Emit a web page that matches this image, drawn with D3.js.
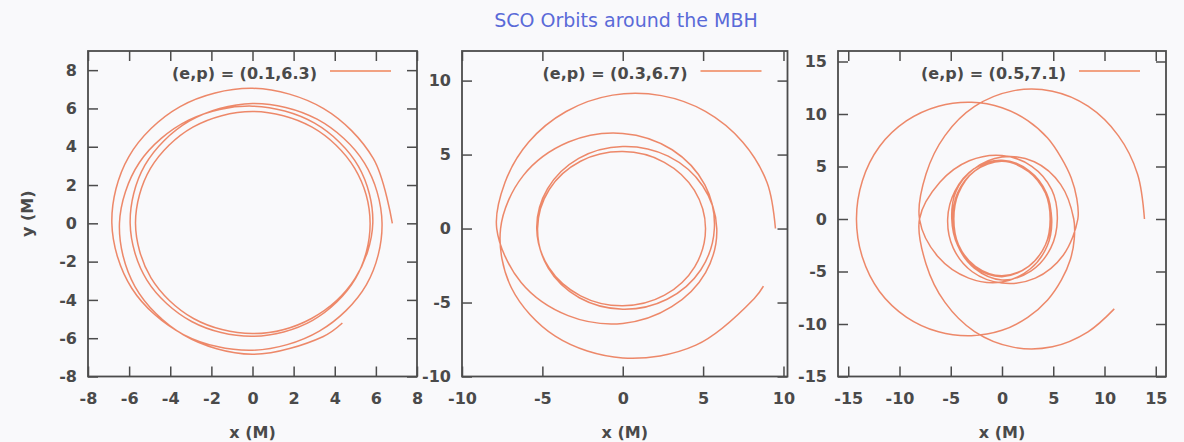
<!DOCTYPE html>
<html>
<head>
<meta charset="utf-8">
<script src="https://cdn.jsdelivr.net/npm/d3@7"></script>
<style>
  body { margin: 0; background: #f9f9fb; }
  svg { display: block; }
  text { font-family: "DejaVu Sans", sans-serif; }
</style>
</head>
<body>
<script>
const chartTitle = "SCO Orbits around the MBH";
const legendLabels = ["(e,p) = (0.1,6.3)", "(e,p) = (0.3,6.7)", "(e,p) = (0.5,7.1)"];
const xTitle = "x (M)";
const yTitle = "y (M)";

const ticksA = [-8, -6, -4, -2, 0, 2, 4, 6, 8];
const ticksB = [-10, -5, 0, 5, 10];
const ticksC = [-15, -10, -5, 0, 5, 10, 15];

// orbit samples: [angle in degrees (cumulative), radius in M]
const orbitA = [
  [0, 6.8], [30, 6.78], [60, 6.92], [90, 7.05], [120, 7.04], [150, 6.95], [180, 6.84],
  [210, 6.78], [240, 6.71], [270, 6.63], [300, 6.5], [330, 6.4], [360, 6.3],
  [390, 6.29], [420, 6.28], [450, 6.26], [480, 6.16], [510, 6.05], [540, 5.95],
  [570, 5.93], [600, 5.92], [630, 5.9], [660, 5.85], [690, 5.78], [720, 5.72],
  [750, 5.74], [780, 5.8], [810, 5.84], [840, 5.8], [870, 5.73], [900, 5.69],
  [930, 5.7], [960, 5.74], [990, 5.76], [1020, 5.74], [1050, 5.76], [1080, 5.85],
  [1110, 5.95], [1140, 6.04], [1170, 6.12], [1200, 6.22], [1230, 6.35], [1260, 6.47],
  [1290, 6.6], [1320, 6.72], [1350, 6.84], [1380, 6.84], [1390, 6.8]
];

const orbitB = [
  [0, 9.5], [19, 9.5], [38, 9.48], [57, 9.44], [75, 9.3], [94, 9.04], [114, 8.66],
  [135, 8.27], [157, 7.96], [180, 7.84],
  [210, 7.3], [240, 6.8], [270, 6.41], [300, 6.1], [330, 5.95], [360, 5.85],
  [390, 5.75], [420, 5.65], [450, 5.55], [480, 5.48], [510, 5.4], [540, 5.35],
  [570, 5.3], [600, 5.25], [630, 5.22], [660, 5.2], [690, 5.17], [720, 5.15],
  [750, 5.15], [780, 5.17], [810, 5.2], [840, 5.25], [870, 5.28], [900, 5.3],
  [930, 5.35], [960, 5.4], [990, 5.45], [1020, 5.52], [1050, 5.6], [1080, 5.7],
  [1110, 5.9], [1140, 6.15], [1170, 6.43], [1200, 6.75], [1230, 7.15], [1260, 7.6],
  [1290, 8.0], [1320, 8.4], [1350, 8.75], [1380, 9.1], [1410, 9.45], [1416, 9.58]
];

const orbitC = [
  [0, 13.9], [18, 13.9], [35, 13.85], [52, 13.63], [68, 13.12], [85, 12.25],
  [104, 11.05], [125, 9.7], [150, 8.56], [180, 8.05],
  [210, 7.2], [240, 6.5], [270, 6.0], [300, 5.5], [330, 5.1], [360, 4.85],
  [390, 4.9], [420, 5.2], [450, 5.5], [480, 5.3], [510, 4.9], [540, 4.7],
  [570, 4.9], [600, 5.2], [630, 5.4], [660, 5.2], [690, 4.9], [720, 4.8],
  [750, 5.0], [780, 5.3], [810, 5.6], [840, 5.5], [870, 5.3], [900, 5.3],
  [930, 5.5], [960, 5.8], [990, 6.1], [1020, 6.5], [1050, 6.9], [1080, 7.4],
  [1095, 7.55], [1110, 7.8], [1125, 8.2], [1140, 8.9], [1155, 9.7], [1170, 10.6],
  [1185, 11.5], [1200, 12.4], [1215, 13.2], [1230, 13.8], [1245, 14.1], [1260, 14.2],
  [1275, 14.1], [1290, 13.8], [1305, 13.2], [1320, 12.4], [1335, 11.5], [1350, 10.6],
  [1365, 9.7], [1380, 8.9], [1395, 8.2], [1410, 7.7], [1425, 7.3], [1440, 7.0],
  [1470, 6.6], [1500, 6.3], [1530, 5.9], [1560, 5.5], [1590, 5.2], [1620, 4.9],
  [1650, 5.0], [1680, 5.3], [1710, 5.5], [1740, 5.2], [1770, 4.9], [1800, 4.7],
  [1830, 4.9], [1860, 5.3], [1890, 5.6], [1920, 5.3], [1950, 5.0], [1980, 4.8],
  [2010, 5.0], [2040, 5.4], [2070, 5.8], [2100, 5.7], [2130, 5.5], [2160, 5.4],
  [2190, 5.6], [2220, 5.8], [2250, 6.05], [2280, 6.4], [2310, 7.0], [2340, 8.05],
  [2370, 8.56], [2395, 9.7], [2416, 11.05], [2435, 12.25], [2452, 13.12],
  [2468, 13.63], [2482, 13.9]
];

const width = 1184;
const height = 442;
const plotTop = 51;
const plotBottom = 376.5;
const frameColor = "#4c4c4c";
const textColor = "#4a4a4a";
const orbitColor = "#ea6c45";

const panels = [
  { left: 88, right: 417, xDomain: [-8, 8], yDomain: [-8, 9], ticks: ticksA, orbit: orbitA, label: legendLabels[0] },
  { left: 462, right: 787.5, xDomain: [-10, 10.25], yDomain: [-10, 12], ticks: ticksB, orbit: orbitB, label: legendLabels[1] },
  { left: 838, right: 1166, xDomain: [-16, 16], yDomain: [-15, 16], ticks: ticksC, orbit: orbitC, label: legendLabels[2] }
];

const svg = d3.select("body")
  .append("svg")
  .attr("width", width)
  .attr("height", height);

svg.append("rect")
  .attr("width", width)
  .attr("height", height)
  .attr("fill", "#f9f9fb");

svg.append("text")
  .attr("x", 626)
  .attr("y", 26.5)
  .attr("text-anchor", "middle")
  .style("font-size", "19px")
  .attr("fill", "#5a6ad8")
  .text(chartTitle);

const rad = Math.PI / 180;

panels.forEach((p, i) => {
  const x = d3.scaleLinear().domain(p.xDomain).range([p.left, p.right]);
  const y = d3.scaleLinear().domain(p.yDomain).range([plotBottom, plotTop]);

  const g = svg.append("g");

  const line = d3.line()
    .x(d => x(d[1] * Math.cos(d[0] * rad)))
    .y(d => y(d[1] * Math.sin(d[0] * rad)))
    .curve(d3.curveCatmullRom);

  g.append("path")
    .datum(p.orbit)
    .attr("d", line)
    .attr("fill", "none")
    .attr("stroke", orbitColor)
    .attr("stroke-width", 1.5)
    .attr("stroke-opacity", 0.8);

  // axes: inward ticks on all four sides, labels left and bottom
  const styleAxis = sel => {
    sel.select(".domain").remove();
    sel.selectAll("line").attr("stroke", frameColor).attr("stroke-width", 1.5);
    sel.selectAll("text")
      .attr("fill", textColor)
      .style("font-size", "16px")
      .style("font-weight", "bold")
      .style("font-family", "DejaVu Sans, sans-serif");
  };

  g.append("g")
    .attr("transform", `translate(0,${plotBottom})`)
    .call(d3.axisBottom(x).tickValues(p.ticks).tickSize(-10).tickPadding(16).tickFormat(d3.format("d")))
    .call(styleAxis);

  g.append("g")
    .attr("transform", `translate(${p.left},0)`)
    .call(d3.axisLeft(y).tickValues(p.ticks).tickSize(-10).tickPadding(11).tickFormat(d3.format("d")))
    .call(styleAxis);

  g.append("g")
    .attr("transform", `translate(0,${plotTop})`)
    .call(d3.axisTop(x).tickValues(p.ticks).tickSize(-10).tickFormat(""))
    .call(styleAxis);

  g.append("g")
    .attr("transform", `translate(${p.right},0)`)
    .call(d3.axisRight(y).tickValues(p.ticks).tickSize(-10).tickFormat(""))
    .call(styleAxis);

  g.selectAll(".tick text").text(function () {
    return this.textContent.replace("\u2212", "-");
  });

  g.append("rect")
    .attr("x", p.left)
    .attr("y", plotTop)
    .attr("width", p.right - p.left)
    .attr("height", plotBottom - plotTop)
    .attr("fill", "none")
    .attr("stroke", frameColor)
    .attr("stroke-width", 1.8);

  // key
  g.append("text")
    .attr("x", p.right - 100)
    .attr("y", 78.5)
    .attr("text-anchor", "end")
    .attr("fill", textColor)
    .style("font-size", "16px")
    .style("font-weight", "bold")
    .text(p.label);

  g.append("line")
    .attr("x1", p.right - 87)
    .attr("x2", p.right - 26)
    .attr("y1", 71)
    .attr("y2", 71)
    .attr("stroke", "#f2a282")
    .attr("stroke-width", 2.2);

  g.append("text")
    .attr("x", (p.left + p.right) / 2)
    .attr("y", 438)
    .attr("text-anchor", "middle")
    .attr("fill", textColor)
    .style("font-size", "16px")
    .style("font-weight", "bold")
    .text(xTitle);

  if (i === 0) {
    g.append("text")
      .attr("transform", `translate(33,${(plotTop + plotBottom) / 2}) rotate(-90)`)
      .attr("text-anchor", "middle")
      .attr("fill", textColor)
      .style("font-size", "16px")
      .style("font-weight", "bold")
      .text(yTitle);
  }
});
</script>
</body>
</html>
